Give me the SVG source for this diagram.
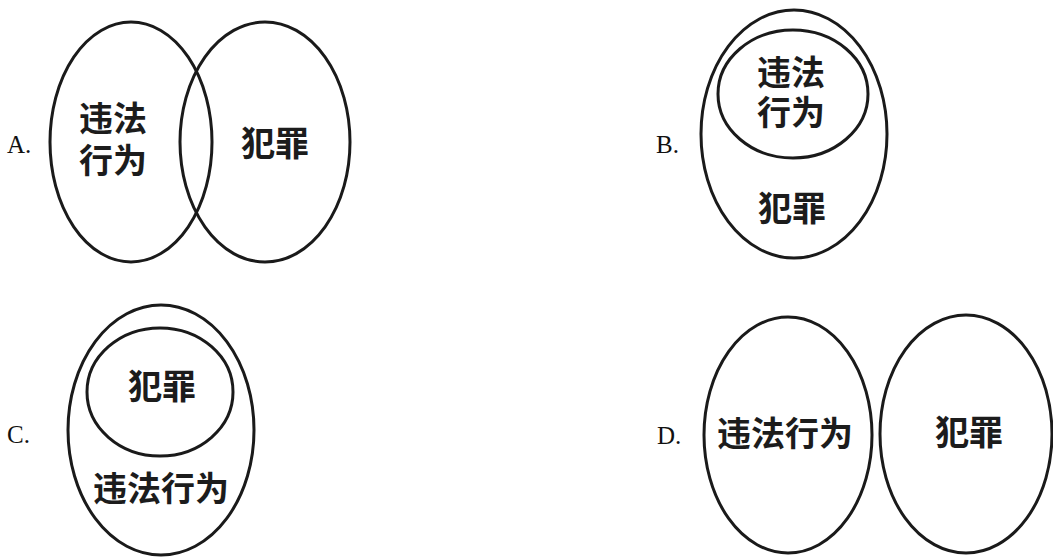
<svg xmlns="http://www.w3.org/2000/svg" width="1053" height="557" viewBox="0 0 1053 557">
<style>
.e{fill:none;stroke:#1a1a1a;stroke-width:3}
.t{font-family:"Noto Sans CJK SC","Noto Sans CJK JP",sans-serif;font-weight:bold;fill:#1c1c1c;font-size:34px;text-anchor:middle}
.l{font-family:"Liberation Serif",serif;font-size:25px;fill:#111}
</style>
<rect width="1053" height="557" fill="#ffffff"/>
<g id="optA">
<text class="l" x="7" y="153">A.</text>
<ellipse id="A-illegal" class="e" cx="131" cy="142" rx="81" ry="120"/>
<ellipse id="A-crime" class="e" cx="265" cy="142" rx="85" ry="120"/>
<text class="t" x="113" y="131">违法</text>
<text class="t" x="113" y="173">行为</text>
<text class="t" x="275" y="156">犯罪</text>
</g>
<g id="optB">
<text class="l" x="656" y="153">B.</text>
<ellipse id="B-crime" class="e" cx="794" cy="134" rx="93" ry="124"/>
<ellipse id="B-illegal" class="e" cx="793" cy="94" rx="75" ry="64"/>
<text class="t" x="791" y="85">违法</text>
<text class="t" x="791" y="125">行为</text>
<text class="t" x="792" y="221">犯罪</text>
</g>
<g id="optC">
<text class="l" x="7" y="443">C.</text>
<ellipse id="C-illegal" class="e" cx="161" cy="430" rx="93" ry="125"/>
<ellipse id="C-crime" class="e" cx="160" cy="392" rx="73" ry="64"/>
<text class="t" x="162" y="399">犯罪</text>
<text class="t" x="161" y="501">违法行为</text>
</g>
<g id="optD">
<text class="l" x="657" y="444">D.</text>
<ellipse id="D-illegal" class="e" cx="788" cy="435" rx="84" ry="118"/>
<ellipse id="D-crime" class="e" cx="966" cy="434" rx="86" ry="119"/>
<text class="t" x="785" y="446">违法行为</text>
<text class="t" x="969" y="445">犯罪</text>
</g>
<g id="connectors"/>
</svg>
